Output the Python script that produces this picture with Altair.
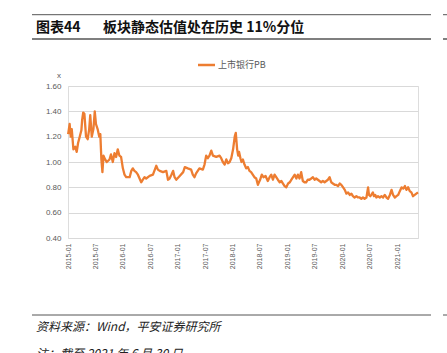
import altair as alt
import pandas as pd

# ---- data ----
dates = [
    "2015-01-02", "2015-01-12", "2015-01-19", "2015-01-26", "2015-02-06", "2015-02-18", "2015-02-28",
    "2015-03-09", "2015-03-20", "2015-03-31", "2015-04-05", "2015-04-12", "2015-04-20", "2015-05-01",
    "2015-05-12", "2015-05-22", "2015-05-29", "2015-06-08", "2015-06-19", "2015-06-28", "2015-07-06",
    "2015-07-17", "2015-07-28", "2015-08-04", "2015-08-11", "2015-08-18", "2015-08-25", "2015-09-05",
    "2015-09-16", "2015-10-04", "2015-10-14", "2015-10-26", "2015-11-06", "2015-11-17", "2015-11-28",
    "2015-12-09", "2015-12-20", "2016-01-01", "2016-01-12", "2016-01-23", "2016-02-15", "2016-02-26",
    "2016-03-07", "2016-03-18", "2016-03-29", "2016-04-10", "2016-04-21", "2016-05-02", "2016-05-13",
    "2016-05-24", "2016-06-04", "2016-06-27", "2016-07-19", "2016-08-10", "2016-08-21", "2016-09-02",
    "2016-09-24", "2016-10-16", "2016-10-27", "2016-11-07", "2016-11-19", "2016-11-30", "2016-12-10",
    "2016-12-21", "2017-01-13", "2017-02-05", "2017-02-16", "2017-03-08", "2017-03-30", "2017-04-10",
    "2017-04-21", "2017-05-02", "2017-05-24", "2017-06-16", "2017-06-27", "2017-07-08", "2017-07-19",
    "2017-07-30", "2017-08-11", "2017-08-22", "2017-09-13", "2017-10-05", "2017-10-16", "2017-10-27",
    "2017-11-08", "2017-11-19", "2017-11-30", "2017-12-11", "2017-12-22", "2018-01-03", "2018-01-14",
    "2018-01-21", "2018-01-30", "2018-02-06", "2018-02-12", "2018-02-21", "2018-02-28", "2018-03-09",
    "2018-03-20", "2018-03-31", "2018-04-11", "2018-04-22", "2018-05-03", "2018-05-14", "2018-05-25",
    "2018-06-06", "2018-06-17", "2018-06-24", "2018-07-02", "2018-07-13", "2018-07-24", "2018-08-07",
    "2018-08-22", "2018-09-03", "2018-09-14", "2018-09-25", "2018-10-06", "2018-10-17", "2018-10-28",
    "2018-11-09", "2018-11-20", "2018-12-01", "2018-12-12", "2018-12-23", "2019-01-04", "2019-01-15",
    "2019-01-26", "2019-02-06", "2019-02-17", "2019-02-28", "2019-03-10", "2019-03-21", "2019-04-01",
    "2019-04-12", "2019-04-23", "2019-05-04", "2019-05-15", "2019-05-26", "2019-06-07", "2019-06-18",
    "2019-06-29", "2019-07-10", "2019-07-21", "2019-08-01", "2019-08-12", "2019-08-23", "2019-09-04",
    "2019-09-15", "2019-09-26", "2019-10-07", "2019-10-18", "2019-10-29", "2019-11-10", "2019-11-21",
    "2019-12-02", "2019-12-13", "2019-12-24", "2020-01-05", "2020-01-16", "2020-01-27", "2020-02-07",
    "2020-02-18", "2020-02-29", "2020-03-10", "2020-03-21", "2020-04-02", "2020-04-13", "2020-04-24",
    "2020-05-05", "2020-05-16", "2020-05-27", "2020-06-08", "2020-06-19", "2020-06-25", "2020-07-04",
    "2020-07-10", "2020-07-21", "2020-07-28", "2020-08-06", "2020-08-13", "2020-08-24", "2020-09-05",
    "2020-09-16", "2020-09-27", "2020-10-08", "2020-10-19", "2020-10-30", "2020-11-11", "2020-11-22",
    "2020-12-02", "2020-12-14", "2020-12-25", "2021-01-05", "2021-01-16", "2021-01-28", "2021-02-08",
    "2021-02-19", "2021-03-01", "2021-03-12", "2021-03-23", "2021-04-03", "2021-04-14", "2021-04-25",
    "2021-05-06", "2021-05-17",
]
pb = [
    1.22, 1.30, 1.20, 1.26, 1.10, 1.12, 1.08,
    1.15, 1.20, 1.25, 1.33, 1.39, 1.38, 1.20,
    1.18, 1.26, 1.37, 1.20, 1.26, 1.40, 1.30,
    1.26, 1.20, 1.22, 1.02, 0.92, 1.05, 1.02,
    1.00, 1.02, 1.06, 1.00, 1.07, 1.04, 1.10,
    1.05, 1.04, 0.95, 0.90, 0.88, 0.88, 0.93,
    0.95, 0.93, 0.92, 0.90, 0.87, 0.84, 0.86,
    0.88, 0.87, 0.89, 0.90, 0.97, 0.94, 0.93,
    0.92, 0.93, 0.86, 0.87, 0.90, 0.93, 0.88,
    0.86, 0.89, 0.92, 0.96, 0.95, 0.94, 0.90,
    0.88, 0.91, 0.95, 0.94, 0.98, 1.05, 1.03,
    1.05, 1.09, 1.05, 1.04, 1.05, 1.03, 1.00,
    0.98, 1.02, 0.99, 1.00, 1.03, 1.10, 1.20,
    1.23, 1.10, 1.05, 1.08, 1.03, 1.00, 1.02,
    0.98, 0.95, 0.96, 0.93, 0.92, 0.90, 0.88,
    0.87, 0.82, 0.84, 0.86, 0.90, 0.88, 0.89,
    0.85, 0.88, 0.90, 0.86, 0.90, 0.88, 0.86,
    0.84, 0.85, 0.83, 0.81, 0.80, 0.83, 0.84,
    0.86, 0.88, 0.90, 0.87, 0.90, 0.87, 0.92,
    0.85, 0.84, 0.84, 0.86, 0.86, 0.87, 0.88,
    0.86, 0.87, 0.86, 0.85, 0.84, 0.85, 0.84,
    0.85, 0.86, 0.88, 0.84, 0.83, 0.82, 0.82,
    0.81, 0.83, 0.82, 0.80, 0.78, 0.75, 0.76,
    0.74, 0.75, 0.73, 0.72, 0.73, 0.72, 0.72,
    0.71, 0.72, 0.71, 0.72, 0.80, 0.74, 0.73,
    0.74, 0.76, 0.73, 0.74, 0.72, 0.73, 0.72,
    0.73, 0.72, 0.74, 0.72, 0.71, 0.74, 0.78,
    0.74, 0.72, 0.73, 0.74, 0.77, 0.80, 0.79,
    0.81, 0.78, 0.80, 0.77, 0.76, 0.73, 0.74,
    0.75, 0.76,
]
series_name = "上市银行PB"
y_ticks = [0.4, 0.6, 0.8, 1.0, 1.2, 1.4, 1.6]
x_tick_years_months = [(y, m) for y in range(2015, 2022) for m in (1, 7)][:13]

title_left = "图表44"
title_right = "板块静态估值处在历史 11%分位"
source_text = "资料来源：Wind，平安证券研究所"
note_text = "注：截至 2021 年 6 月 30 日"
unit_text = "x"

ORANGE = "#ED7D31"
GRAY = "#595959"
FONT = "Liberation Sans"
CJK = "Noto Sans CJK SC"

df = pd.DataFrame({"date": [d + "T00:00:00" for d in dates], "pb": pb})

line = alt.Chart(df).mark_line(color=ORANGE, strokeWidth=2.3, strokeJoin="round").encode(
    x=alt.X(
        "date:T",
        title=None,
        scale=alt.Scale(domain=[alt.DateTime(year=2015, month=1, date=1),
                                alt.DateTime(year=2021, month=5, date=17)]),
        axis=alt.Axis(
            values=[alt.DateTime(year=y, month=m, date=1) for y, m in x_tick_years_months],
            format="%Y-%m", labelAngle=270, labelFontSize=7, labelColor=GRAY,
            labelFont=FONT, labelPadding=5, ticks=False, domain=False, grid=False,
            labelOverlap=False,
        ),
    ),
    y=alt.Y(
        "pb:Q",
        title=None,
        scale=alt.Scale(domain=[0.4, 1.6], nice=False, zero=False),
        axis=alt.Axis(
            values=y_ticks, format=".2f", labelFontSize=8, labelColor=GRAY, labelFont=FONT,
            labelPadding=7, ticks=False, domain=False, grid=True, gridColor="#d9d9d9",
            gridWidth=1,
        ),
    ),
)

one = pd.DataFrame({"k": [0]})


def txt(s, x, y, size, color="#000000", weight="normal", style="normal", font=CJK, align="left"):
    return alt.Chart(pd.DataFrame({"t": [s]})).mark_text(
        fontSize=size, color=color, fontWeight=weight, fontStyle=style, font=font,
        align=align, baseline="middle",
    ).encode(text="t:N", x=alt.value(x), y=alt.value(y))


def hrule(x1, x2, y, color="#404040", width=1.0):
    return alt.Chart(one).mark_rule(color=color, strokeWidth=width).encode(
        x=alt.value(x1), x2=alt.value(x2), y=alt.value(y))


# positions are relative to the plot origin (68, 86)
layers = [
    line,
    hrule(-36, 363, -71.3, "#555555", 1.0),
    hrule(-36, 363, -47, "#555555", 1.5),
    hrule(375, 381, -71.3, "#555555", 1.0),
    hrule(375, 381, -47, "#555555", 1.5),
    hrule(-36, 363, 229, "#555555", 1.0),
    hrule(375, 381, 229, "#555555", 1.0),
    txt(title_left, -32, -58.5, 14, "#111111", "bold"),
    txt(title_right, 35, -58.5, 14, "#111111", "bold"),
    alt.Chart(one).mark_rule(color=ORANGE, strokeWidth=2.5).encode(
        x=alt.value(130), x2=alt.value(147), y=alt.value(-21)),
    txt(series_name, 150, -21, 9, GRAY, font=CJK),
    txt(unit_text, -9, -10, 8, GRAY, font=FONT, align="center"),
    txt(source_text, -32, 241, 12, "#222222", style="italic"),
    txt(note_text, -32, 268, 12, "#222222", style="italic"),
]

chart = alt.layer(*layers).properties(
    width=350, height=152,
    autosize=alt.AutoSizeParams(type="none"),
    padding={"left": 68, "top": 86, "right": 29, "bottom": 115},
).configure_view(strokeWidth=0).configure(background="white")

chart.save("out.html", embed_options={"renderer": "svg", "actions": False})
